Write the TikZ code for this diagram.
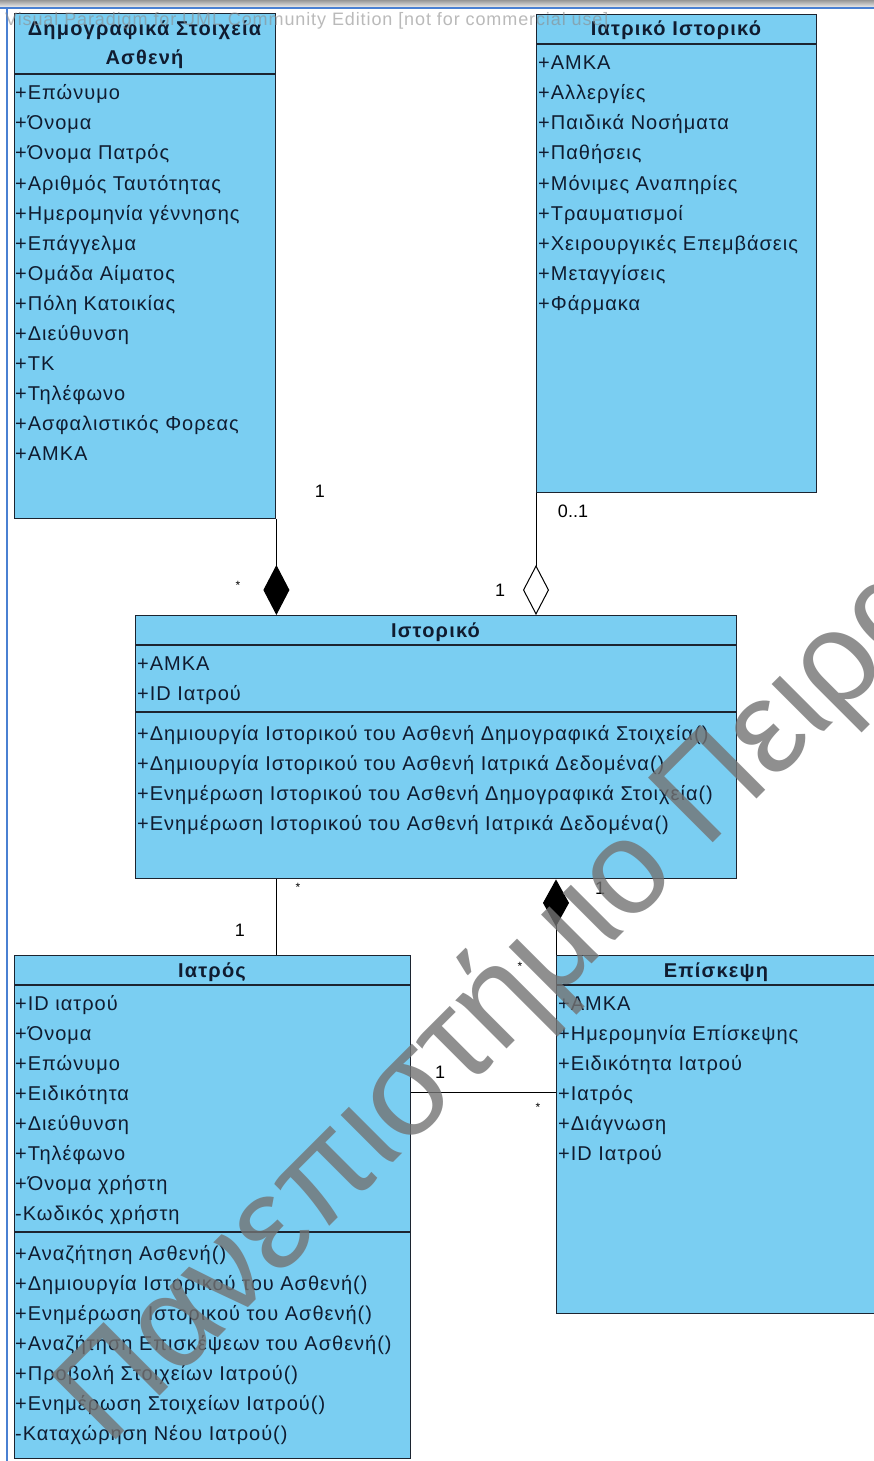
\documentclass[tikz,border=0pt]{standalone}
\usepackage{fontspec}
\setmainfont{Liberation Sans}
\usetikzlibrary{arrows.meta,calc}

\definecolor{classfill}{RGB}{122,206,242}
\definecolor{classline}{RGB}{28,36,48}
\definecolor{classtext}{RGB}{16,28,48}
\definecolor{framegray}{RGB}{150,150,150}
\definecolor{frameblue}{RGB}{74,128,210}

\newcommand{\itemfont}{\fontsize{20}{22}\selectfont\addfontfeature{LetterSpace=5}}
\newcommand{\titlefont}{\fontsize{20}{22}\selectfont\bfseries\addfontfeature{LetterSpace=6}}
\newcommand{\labfont}{\fontsize{18}{20}\selectfont}

% list of member lines, 30 units apart, first baseline at #2
\newcommand{\memberlist}[3]{%
  \foreach \t [count=\i from 0] in {#3}
    \node[member] at (#1,{#2+30*\i}) {\t};}

\tikzset{
  classbox/.style={draw=classline, fill=classfill, line width=1.4pt,
    rectangle, inner sep=0pt, anchor=north west},
  member/.style={anchor=base west, inner sep=0pt, font=\itemfont, text=classtext},
  title/.style={anchor=base, inner sep=0pt, font=\titlefont, text=classtext},
  sep/.style={draw=classline, line width=1.4pt},
  assoc/.style={draw=black, line width=1pt},
  mult/.style={inner sep=0pt, font=\labfont, text=black},
  star/.style={inner sep=0pt, font=\fontsize{12}{12}\selectfont, text=black},
}

\begin{document}
\begin{tikzpicture}[x=1pt,y=-1pt]
\useasboundingbox (0,0) rectangle (874,1461);
\begin{scope}
\clip (0,0) rectangle (874,1461);
\fill[white] (0,0) rectangle (874,1461);

% window frame
\shade[top color=framegray, bottom color=black!8] (0,0) rectangle (874,7);
\draw[frameblue, line width=2pt] (0,8) -- (874,8);
\draw[frameblue, line width=2pt] (7,8) -- (7,1461);

% classes
\node[classbox, minimum width=261pt, minimum height=505pt] (dem) at (14,13) {};
\draw[sep] (14,74) -- (275,74);
\node[title] at (144.5,36) {Δημογραφικά Στοιχεία};
\node[title] at (144.5,65) {Ασθενή};
\memberlist{15}{100}{+Επώνυμο,+Όνομα,+Όνομα Πατρός,+Αριθμός Ταυτότητας,+Ημερομηνία γέννησης,+Επάγγελμα,+Ομάδα Αίματος,+Πόλη Κατοικίας,+Διεύθυνση,+ΤΚ,+Τηλέφωνο,+Ασφαλιστικός Φορεας,+ΑΜΚΑ}

\node[classbox, minimum width=280pt, minimum height=478pt] (med) at (536,14) {};
\draw[sep] (536,44) -- (816,44);
\node[title] at (676,36) {Ιατρικό Ιστορικό};
\memberlist{538}{70}{+ΑΜΚΑ,+Αλλεργίες,+Παιδικά Νοσήματα,+Παθήσεις,+Μόνιμες Αναπηρίες,+Τραυματισμοί,+Χειρουργικές Επεμβάσεις,+Μεταγγίσεις,+Φάρμακα}

\node[classbox, minimum width=601pt, minimum height=263pt] (hist) at (135,615) {};
\draw[sep] (135,645) -- (736,645);
\draw[sep] (135,712) -- (736,712);
\node[title] at (435.5,637) {Ιστορικό};
\memberlist{137}{670}{+ΑΜΚΑ,+ID Ιατρού}
\memberlist{137}{740}{+Δημιουργία Ιστορικού του Ασθενή Δημογραφικά Στοιχεία(),+Δημιουργία Ιστορικού του Ασθενή Ιατρικά Δεδομένα(),+Ενημέρωση Ιστορικού του Ασθενή Δημογραφικά Στοιχεία(),+Ενημέρωση Ιστορικού του Ασθενή Ιατρικά Δεδομένα()}

\node[classbox, minimum width=396pt, minimum height=503pt] (doc) at (14,955) {};
\draw[sep] (14,985) -- (410,985);
\draw[sep] (14,1232) -- (410,1232);
\node[title] at (212,977) {Ιατρός};
\memberlist{15}{1010}{+ID ιατρού,+Όνομα,+Επώνυμο,+Ειδικότητα,+Διεύθυνση,+Τηλέφωνο,+Όνομα χρήστη,-Κωδικός χρήστη}
\memberlist{15}{1260}{+Αναζήτηση Ασθενή(),+Δημιουργία Ιστορικού του Ασθενή(),+Ενημέρωση Ιστορικού του Ασθενή(),+Αναζήτηση Επισκέψεων του Ασθενή(),+Προβολή Στοιχείων Ιατρού(),+Ενημέρωση Στοιχείων Ιατρού(),-Καταχώρηση Νέου Ιατρού()}

\node[classbox, minimum width=330pt, minimum height=358pt] (visit) at (556,955) {};
\draw[sep] (556,985) -- (886,985);
\node[title] at (716,977) {Επίσκεψη};
\memberlist{558}{1010}{+ΑΜΚΑ,+Ημερομηνία Επίσκεψης,+Ειδικότητα Ιατρού,+Ιατρός,+Διάγνωση,+ID Ιατρού}

% tool banner, printed faintly over the diagram
\node[anchor=base west, inner sep=0pt, text=black!45, opacity=0.6,
      font=\fontsize{18}{18}\selectfont\addfontfeature{LetterSpace=5}] (banner) at (5,26)
  {Visual Paradigm for UML Community Edition [not for commercial use]};

% associations
\draw[assoc, -{Diamond[length=50pt,width=26pt]}]
  (dem.south east) -- (hist.north -| dem.east);
\draw[assoc, -{Diamond[open,length=50pt,width=26pt]}]
  (med.south west) -- (hist.north -| med.west);
\draw[assoc] (hist.south -| dem.east) -- (doc.north -| dem.east);
\draw[assoc, {Diamond[length=47pt,width=26pt]}-]
  (hist.south -| visit.west) -- (visit.north west);
\coordinate (link) at (410,1092);
\draw[assoc] (doc.east |- link) -- (visit.west |- link);

% multiplicities
\node[mult] at (320,491) {1};
\node[star] at (238,585) {*};
\node[mult] at (573,511) {0..1};
\node[mult] at (500,590) {1};
\node[star] at (298,887) {*};
\node[mult] at (240,930) {1};
\node[mult] at (600,888) {1};
\node[star] at (520,966) {*};
\node[mult] at (440,1072) {1};
\node[star] at (538,1107) {*};

% watermark
\node[rotate=45, anchor=base west, inner sep=0pt, text=black!55, opacity=0.8,
      font=\fontsize{133}{133}\selectfont] (mark) at (108,1448) {Πανεπιστήμιο Πειραιώς};
\end{scope}
\end{tikzpicture}
\end{document}
